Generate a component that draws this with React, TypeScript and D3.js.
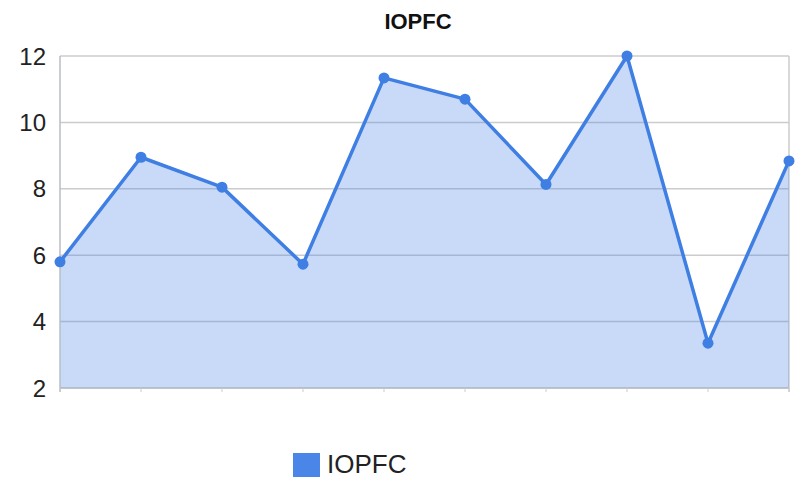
import React from "react";
import * as d3 from "d3";

const categories = ["1", "2", "3", "4", "5", "6", "7", "8", "9", "10"];
const values = [5.8, 8.95, 8.05, 5.73, 11.34, 10.7, 8.13, 12.0, 3.35, 8.84];
const yTicks = [2, 4, 6, 8, 10, 12];
const seriesName = "IOPFC";

const width = 795;
const height = 479;
const left = 60;
const right = 789;
const top = 56;
const bottom = 388;

const App = () => {
  const x = d3.scalePoint<string>().domain(categories).range([left, right]);
  const y = d3.scaleLinear().domain([2, 12]).range([bottom, top]);

  const line = d3
    .line<number>()
    .x((_, i) => x(categories[i]) as number)
    .y((d) => y(d));
  const area = d3
    .area<number>()
    .x((_, i) => x(categories[i]) as number)
    .y0(bottom)
    .y1((d) => y(d));

  return (
    <svg
      width={width}
      height={height}
      style={{ position: "absolute", left: 0, top: 0, fontFamily: "Arial, 'Liberation Sans', sans-serif" }}
    >
      <rect width={width} height={height} fill="#fff" />
      <text x={418} y={29} textAnchor="middle" fontSize={22} fontWeight="bold" fill="#111">
        {seriesName}
      </text>

      {/* grid */}
      {yTicks.map((t) => (
        <line key={t} x1={left} x2={right} y1={y(t)} y2={y(t)} stroke="#cccccc" strokeWidth={1.5} />
      ))}
      <line x1={right} x2={right} y1={top} y2={bottom + 4} stroke="#cccccc" strokeWidth={1.5} />

      {/* area + line */}
      <path d={area(values) ?? ""} fill="#4a86e8" fillOpacity={0.3} />
      <line x1={left} x2={left} y1={top} y2={bottom + 4} stroke="#b8bcc4" strokeWidth={1.5} />
      <line x1={left} x2={right} y1={bottom} y2={bottom} stroke="#b8bcc4" strokeWidth={1.5} />
      {categories.map((c) => (
        <line key={c} x1={x(c)} x2={x(c)} y1={bottom} y2={bottom + 4} stroke="#cccccc" strokeWidth={1} />
      ))}
      <path d={line(values) ?? ""} fill="none" stroke="#3f7fe3" strokeWidth={3.5} strokeLinejoin="round" />
      {values.map((v, i) => (
        <circle key={i} cx={x(categories[i])} cy={y(v)} r={5.5} fill="#3f7fe3" />
      ))}

      {/* y axis labels */}
      {yTicks.map((t) => (
        <text key={t} x={46} y={y(t)} dy="0.36em" textAnchor="end" fontSize={24} fill="#222">
          {t}
        </text>
      ))}

      {/* legend */}
      <rect x={293} y={453} width={27} height={24} fill="#4a86e8" />
      <text x={327} y={473} fontSize={26} fill="#222">
        {seriesName}
      </text>
    </svg>
  );
};

export default App;
